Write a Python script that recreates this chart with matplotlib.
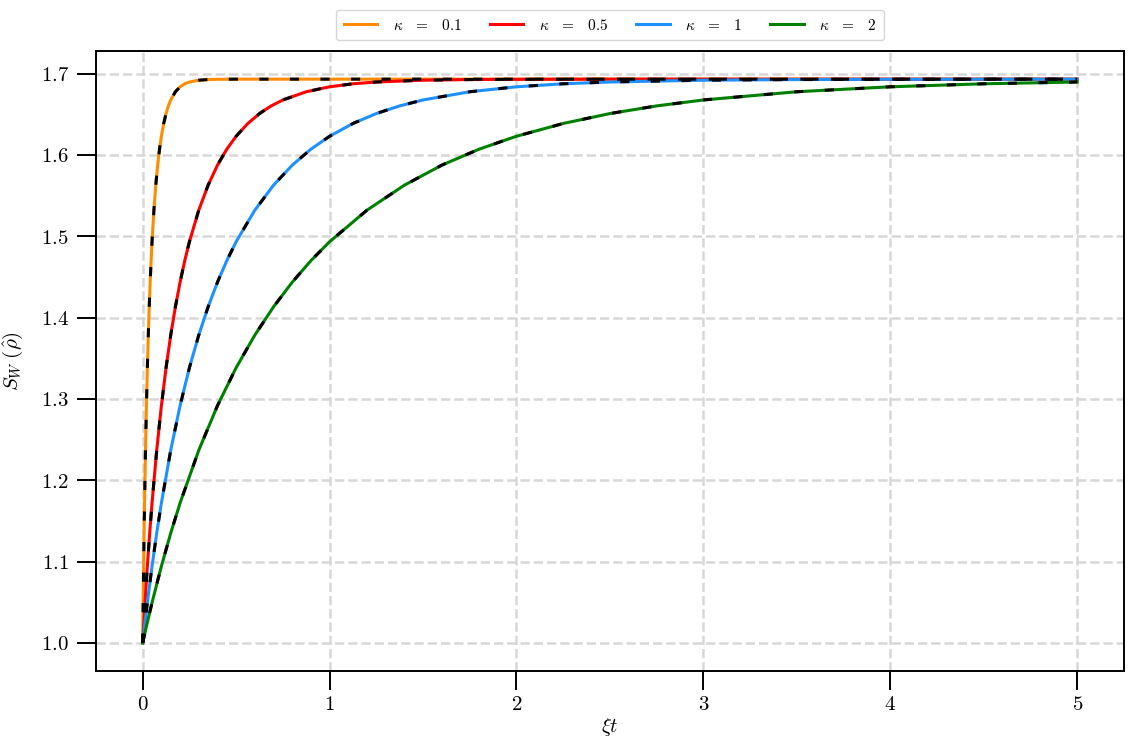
import matplotlib
matplotlib.use('Agg')
import matplotlib.pyplot as plt
from matplotlib.ticker import FuncFormatter

plt.rcParams['mathtext.fontset'] = 'cm'
plt.rcParams['font.family'] = 'serif'
plt.rcParams['font.serif'] = ['DejaVu Serif']

# ---------------- data ----------------
kappa_labels = [r'$\kappa\;\;\;=\;\;\;0.1$', r'$\kappa\;\;\;=\;\;\;0.5$',
                r'$\kappa\;\;\;=\;\;\;1$', r'$\kappa\;\;\;=\;\;\;2$']
colors = ['darkorange', 'red', 'dodgerblue', 'green']

# entropy values (shared sample levels)
s_levels = [1.0000, 1.0204, 1.0494, 1.0942, 1.1349, 1.1719, 1.2368, 1.2916, 1.3383,
            1.3784, 1.4131, 1.4434, 1.4699, 1.4932, 1.5320, 1.5627, 1.5873, 1.6070,
            1.6229, 1.6386, 1.6508, 1.6602, 1.6675, 1.6776, 1.6837, 1.6874, 1.6896,
            1.6918, 1.6926, 1.6929, 1.6931, 1.6931]

t_k01 = [0.000, 0.001, 0.0025, 0.005, 0.0075, 0.010, 0.015, 0.020, 0.025,
         0.030, 0.035, 0.040, 0.045, 0.050, 0.060, 0.070, 0.080, 0.090,
         0.100, 0.1125, 0.125, 0.1375, 0.150, 0.175, 0.200, 0.225, 0.250,
         0.300, 0.350, 0.400, 0.500, 5.000]
s_k01 = s_levels

t_k05 = [0.000, 0.005, 0.0125, 0.025, 0.0375, 0.050, 0.075, 0.100, 0.125,
         0.150, 0.175, 0.200, 0.225, 0.250, 0.300, 0.350, 0.400, 0.450,
         0.500, 0.5625, 0.625, 0.6875, 0.750, 0.875, 1.000, 1.125, 1.250,
         1.500, 1.750, 2.000, 2.500, 5.000]
s_k05 = s_levels

t_k1 = [0.000, 0.010, 0.025, 0.050, 0.075, 0.100, 0.150, 0.200, 0.250,
        0.300, 0.350, 0.400, 0.450, 0.500, 0.600, 0.700, 0.800, 0.900,
        1.000, 1.125, 1.250, 1.375, 1.500, 1.750, 2.000, 2.250, 2.500,
        3.000, 3.500, 4.000, 5.000]
s_k1 = s_levels[:31]

t_k2 = [0.000, 0.020, 0.050, 0.100, 0.150, 0.200, 0.300, 0.400, 0.500,
        0.600, 0.700, 0.800, 0.900, 1.000, 1.200, 1.400, 1.600, 1.800,
        2.000, 2.250, 2.500, 2.750, 3.000, 3.500, 4.000, 4.500, 5.000]
s_k2 = s_levels[:27]

x_ticks = [0, 1, 2, 3, 4, 5]
y_ticks = [1.0, 1.1, 1.2, 1.3, 1.4, 1.5, 1.6, 1.7]

series_t = [t_k01, t_k05, t_k1, t_k2]
series_s = [s_k01, s_k05, s_k1, s_k2]

# ---------------- figure ----------------
fig = plt.figure(figsize=(11.33, 7.44), dpi=100)
ax = fig.add_axes([0.0847, 0.0981, 0.9073, 0.8334])

for t, s, c, lab in zip(series_t, series_s, colors, kappa_labels):
    ax.plot(t, s, color=c, lw=2.2, label=lab, zorder=3)
    ax.plot(t, s, color='black', lw=2.2, dashes=(3, 7), zorder=4)

ax.set_xticks(x_ticks)
ax.set_yticks(y_ticks)
ax.xaxis.set_major_formatter(FuncFormatter(lambda v, p: r'$%d$' % round(v)))
ax.yaxis.set_major_formatter(FuncFormatter(lambda v, p: r'$%.1f$' % v))
ax.tick_params(direction='out', length=14, width=1.4, labelsize=15)
ax.tick_params(axis='x', pad=3)
ax.tick_params(axis='y', pad=5.5)
for sp in ax.spines.values():
    sp.set_linewidth(1.4)

ax.grid(True, ls='--', color='lightgray', lw=1.8, alpha=0.9)
ax.set_axisbelow(True)

ax.set_xlabel(r'$\xi t$', fontsize=14.5, labelpad=1.5)
ax.set_ylabel(r'$S_W\;(\hat{\rho})$', fontsize=15, labelpad=11)

ax.legend(loc='lower center', bbox_to_anchor=(0.5, 1.017), ncol=4,
          fontsize=11, handlelength=2.2, handletextpad=1.0, columnspacing=1.85,
          borderaxespad=0, borderpad=0.5, frameon=True, fancybox=True,
          edgecolor='0.8')

fig.savefig('out.png', dpi=100)
